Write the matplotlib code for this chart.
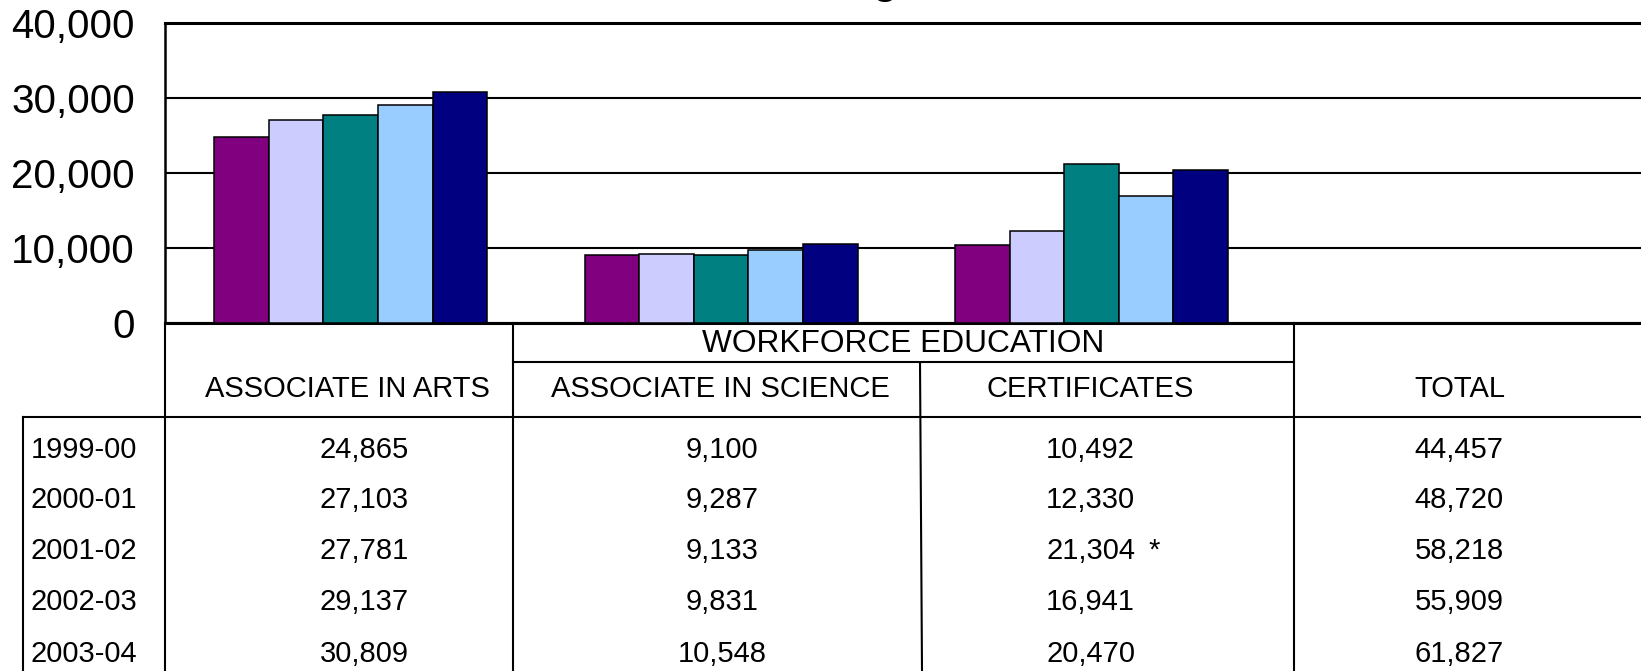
import numpy as np
import matplotlib
matplotlib.use("Agg")
import matplotlib.pyplot as plt

plt.rcParams['font.family'] = ['Liberation Sans', 'DejaVu Sans']

# data
years = ['1999-00', '2000-01', '2001-02', '2002-03', '2003-04']
categories = ['ASSOCIATE IN ARTS', 'ASSOCIATE IN SCIENCE', 'CERTIFICATES', 'TOTAL']
assoc_arts = [24865, 27103, 27781, 29137, 30809]
assoc_science = [9100, 9287, 9133, 9831, 10548]
certificates = [10492, 12330, 21304, 16941, 20470]
totals = [44457, 48720, 58218, 55909, 61827]
cert_notes = ['', '', '*', '', '']
group_label = 'WORKFORCE EDUCATION'
title = 'Degrees Awarded'
yticks = [0, 10000, 20000, 30000, 40000]

colors = ['#800080', '#CCCCFF', '#008080', '#99CCFF', '#000080']

W, H = 1641, 671
fig = plt.figure(figsize=(W / 100, H / 100), dpi=100)

# plot area in pixels
left, right, top, bottom = 165.4, 1647.3, 23.3, 323.4
ax = fig.add_axes([left / W, (H - bottom) / H, (right - left) / W, (bottom - top) / H])

series = [assoc_arts, assoc_science, certificates]
bw = 0.1474
x = np.arange(len(series))
for i in range(len(years)):
    vals = [s[i] for s in series]
    ax.bar(x + (i - 2) * bw, vals, width=bw, color=colors[i],
           edgecolor='black', linewidth=1.1, zorder=3)

ax.set_xlim(-0.5, len(categories) - 0.5)
ax.set_ylim(0, 40000)
ax.set_yticks(yticks)
ax.set_yticklabels(['{:,}'.format(v) for v in yticks], fontsize=29)
ax.tick_params(axis='y', length=0, pad=22)
ax.set_xticks([])
ax.yaxis.grid(True, color='black', linewidth=1.5)
ax.set_axisbelow(True)
ax.spines['right'].set_visible(False)
ax.spines['left'].set_linewidth(1.8)
ax.spines['top'].set_linewidth(2.2)
ax.spines['bottom'].set_linewidth(2.2)

# data table drawn below in pixel coords
tb = fig.add_axes([0, 0, 1, 1])
tb.set_xlim(0, W)
tb.set_ylim(H, 0)
tb.axis('off')
tb.patch.set_alpha(0)

lw = 1.5
tb.plot([512.5, 1293.5], [362.3, 362.3], color='black', lw=lw)
tb.plot([22.7, W], [416.7, 416.7], color='black', lw=lw)
tb.plot([22.7, 22.7], [416.7, H], color='black', lw=lw)
tb.plot([165.4, 165.4], [323.4, H], color='black', lw=lw)
tb.plot([512.5, 512.5], [323.4, H], color='black', lw=lw)
tb.plot([920, 922], [362.3, H], color='black', lw=lw)
tb.plot([1293.5, 1293.5], [323.4, H], color='black', lw=lw)

fs = 21
tb.text(903, 344.5, group_label, fontsize=22.8, ha='center', va='center')
head_x = [347.5, 720, 1090.5, 1460]
head_y = 389
for cx, lab in zip(head_x, categories):
    tb.text(cx, head_y, lab, fontsize=fs, ha='center', va='center')

row_y = [449.5, 500, 551, 602.5, 654.5]
val_x = [364, 722, 1090.5, 1459]
cols = [assoc_arts, assoc_science, certificates, totals]
for r, yr in enumerate(years):
    tb.text(31, row_y[r], yr, fontsize=fs, ha='left', va='center')
    for c, col in enumerate(cols):
        t = tb.text(val_x[c], row_y[r], '{:,}'.format(col[r]), fontsize=fs,
                    ha='center', va='center')
        if c == 2 and cert_notes[r]:
            tb.annotate(cert_notes[r], xy=(1, 1), xycoords=t, xytext=(10, 0),
                        textcoords='offset points', ha='left', va='top',
                        fontsize=fs)

# title sits mostly above the visible canvas
fig.text(811 / W, 1 + 7.5 / H, title, fontsize=34.5, ha='left', va='baseline')

fig.savefig('out.png', dpi=100)
